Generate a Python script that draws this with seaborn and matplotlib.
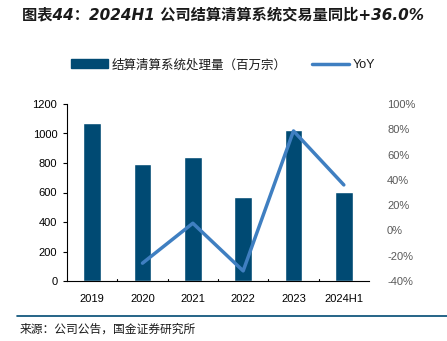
import matplotlib
matplotlib.use("Agg")
import matplotlib.pyplot as plt
import seaborn as sns
import pandas as pd
from matplotlib.lines import Line2D
from matplotlib.patches import Patch
from matplotlib.ticker import FuncFormatter

categories = ["2019", "2020", "2021", "2022", "2023", "2024H1"]
volume = [1074, 796, 841, 572, 1022, 603]
yoy_cats = ["2020", "2021", "2022", "2023", "2024H1"]
yoy = [-25.9, 5.7, -32.0, 78.7, 36.0]

sns.set_theme(style="white")
plt.rcParams['font.family'] = ['Liberation Sans', 'Noto Sans CJK SC', 'DejaVu Sans']

BAR = "#004A73"
LINE = "#3F7FC1"

fig = plt.figure(figsize=(4.47, 3.41), dpi=100)
ax = fig.add_axes([67/447, 1-281/341, 302/447, 177/341])

df = pd.DataFrame({"cat": categories, "v": volume})
sns.barplot(data=df, x="cat", y="v", color=BAR, width=0.35, ax=ax, saturation=1)
ax.set_ylim(0, 1200)
ax.set_yticks(range(0, 1201, 200))
ax.set_xlim(-0.5, 5.5)
ax.set_xlabel("")
ax.set_ylabel("")
for s in ["top", "right"]:
    ax.spines[s].set_visible(False)
for s in ["left", "bottom"]:
    ax.spines[s].set_color("black")
    ax.spines[s].set_linewidth(0.8)
ax.tick_params(axis="y", which="both", left=True, direction="out", length=3, width=0.8,
               labelsize=8, colors="black", pad=4)
ax.tick_params(axis="x", bottom=False, labelsize=8, colors="black", pad=3)
for xb in [0.5, 1.5, 2.5, 3.5, 4.5]:
    ax.plot([xb, xb], [0, 12], color="black", lw=0.8, clip_on=False)

ax2 = ax.twinx()
pos = [categories.index(c) for c in yoy_cats]
dl = pd.DataFrame({"x": pos, "y": yoy})
sns.lineplot(data=dl, x="x", y="y", color=LINE, lw=2.5, ax=ax2)
ax2.set_ylim(-40, 100)
ax2.set_yticks(range(-40, 101, 20))
ax2.yaxis.set_major_formatter(FuncFormatter(lambda v, p: f"{int(v)}%"))
ax2.set_ylabel("")
for s in ["top", "right", "left", "bottom"]:
    ax2.spines[s].set_visible(False)
ax2.tick_params(axis="y", right=False, labelsize=8, colors="#595959", pad=7)
ax2.set_xlim(-0.5, 5.5)

fig.text(22/447, 1-15/341, "图表44：2024H1 公司结算清算系统交易量同比+36.0%",
         fontsize=11, fontweight="bold", style="italic", va="center", ha="left",
         color="#1a1a1a", family=['DejaVu Sans', 'Noto Sans CJK SC'])

handles = [Patch(color=BAR), Line2D([0], [0], color=LINE, lw=2.5)]
labels = ["结算清算系统处理量（百万宗）", "YoY"]
leg = fig.legend(handles, labels, loc="center", bbox_to_anchor=(223/447, 1-65/341), ncol=2,
           frameon=False, fontsize=9, handlelength=3.0, handleheight=0.7,
           columnspacing=2.0, handletextpad=0.3)
for t in leg.get_texts():
    t.set_color("#1a1a1a")

fig.add_artist(Line2D([17/447, 1], [1-316/341, 1-316/341], color="#004A73", lw=1.2))
fig.text(20/447, 1-330/341, "来源：公司公告，国金证券研究所", fontsize=8.5, va="center",
         ha="left", color="#1a1a1a")

fig.savefig("out.png", dpi=100)
